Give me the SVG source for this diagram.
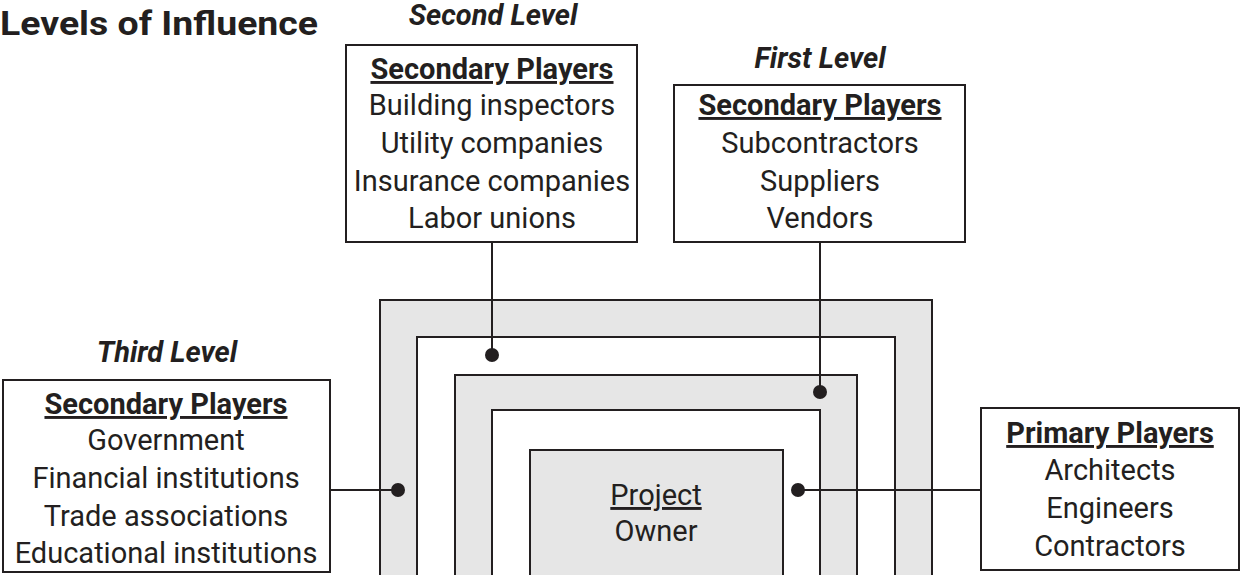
<svg xmlns="http://www.w3.org/2000/svg" width="1241" height="575" viewBox="0 0 1241 575">
<style>
text{font-family:Roboto,"Liberation Sans",sans-serif;font-size:29px;fill:#231f20;text-anchor:middle}
.h{font-weight:bold;text-decoration:underline}
.lv{font-weight:bold;font-style:italic}
.b{fill:#fff;stroke:#231f20;stroke-width:2}
.g{fill:#e6e6e6;stroke:#231f20;stroke-width:2}
line{stroke:#231f20;stroke-width:2}
circle{fill:#231f20}
</style>
<rect width="1241" height="575" fill="#fff"/>
<text x="0" y="35" style="text-anchor:start;font-weight:bold;font-size:34px" textLength="318" lengthAdjust="spacingAndGlyphs">Levels of Influence</text>
<g id="rings">
<rect class="g" x="380" y="300" width="552" height="290"/>
<rect class="b" x="417" y="337" width="478" height="250"/>
<rect class="g" x="455" y="375" width="402" height="210"/>
<rect class="b" x="492" y="410" width="328" height="175"/>
</g>
<g id="owner">
<rect class="g" x="530" y="450" width="253" height="135"/>
<text x="656" y="505" style="text-decoration:underline">Project</text>
<text x="656" y="541">Owner</text>
</g>
<g id="connectors">
<line x1="492" y1="242" x2="492" y2="355"/><circle cx="492" cy="355" r="7"/>
<line x1="820" y1="242" x2="820" y2="392"/><circle cx="820" cy="392" r="7"/>
<line x1="330" y1="490" x2="398" y2="490"/><circle cx="398" cy="490" r="7"/>
<line x1="981" y1="490" x2="798" y2="490"/><circle cx="798" cy="490" r="7"/>
</g>
<g id="second">
<text class="lv" x="493" y="25">Second Level</text>
<rect class="b" x="346" y="45" width="291" height="197"/>
<text class="h" x="492" y="79">Secondary Players</text>
<text x="492" y="115">Building inspectors</text>
<text x="492" y="153">Utility companies</text>
<text x="492" y="191">Insurance companies</text>
<text x="492" y="228">Labor unions</text>
</g>
<g id="first">
<text class="lv" x="820" y="68">First Level</text>
<rect class="b" x="674" y="85" width="291" height="157"/>
<text class="h" x="820" y="115">Secondary Players</text>
<text x="820" y="153">Subcontractors</text>
<text x="820" y="191">Suppliers</text>
<text x="820" y="228">Vendors</text>
</g>
<g id="third">
<text class="lv" x="167" y="362">Third Level</text>
<rect class="b" x="3" y="380" width="327" height="192"/>
<text class="h" x="166" y="414">Secondary Players</text>
<text x="166" y="450">Government</text>
<text x="166" y="488">Financial institutions</text>
<text x="166" y="526">Trade associations</text>
<text x="166" y="563">Educational institutions</text>
</g>
<g id="primary">
<rect class="b" x="981" y="408" width="258" height="162"/>
<text class="h" x="1110" y="443">Primary Players</text>
<text x="1110" y="480">Architects</text>
<text x="1110" y="518">Engineers</text>
<text x="1110" y="556">Contractors</text>
</g>
</svg>
